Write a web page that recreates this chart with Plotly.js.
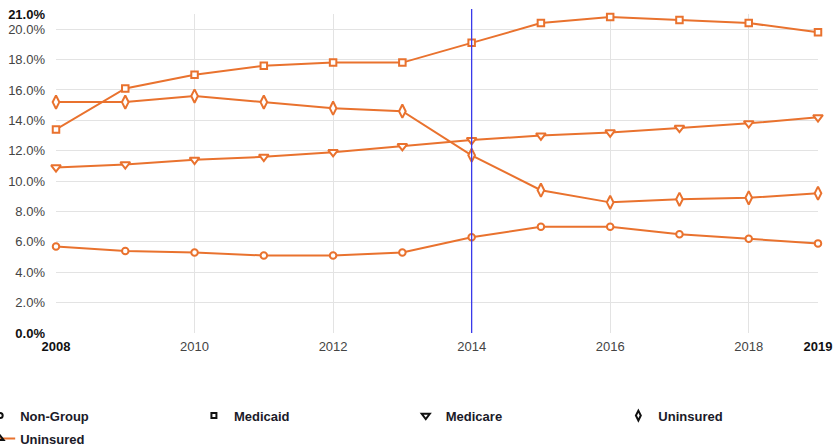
<!DOCTYPE html>
<html>
<head>
<meta charset="utf-8">
<script src="https://cdn.plot.ly/plotly-3.0.1.min.js"></script>
<style>
  html, body { margin: 0; padding: 0; background: #fff; }
  #chart { width: 835px; height: 446px; }
</style>
</head>
<body>
<div id="chart"></div>
<script>
// Coverage share by source, 2008-2019 (percent)
const years = [2008, 2009, 2010, 2011, 2012, 2013, 2014, 2015, 2016, 2017, 2018, 2019];
const nonGroup = [5.7, 5.4, 5.3, 5.1, 5.1, 5.3, 6.3, 7.0, 7.0, 6.5, 6.2, 5.9];
const medicaid = [13.4, 16.1, 17.0, 17.6, 17.8, 17.8, 19.1, 20.4, 20.8, 20.6, 20.4, 19.8];
const medicare = [10.9, 11.1, 11.4, 11.6, 11.9, 12.3, 12.7, 13.0, 13.2, 13.5, 13.8, 14.2];
const uninsured = [15.2, 15.2, 15.6, 15.2, 14.8, 14.6, 11.7, 9.4, 8.6, 8.8, 8.9, 9.2];

// Axis ticks
const yTickVals = [0, 2, 4, 6, 8, 10, 12, 14, 16, 18, 20];
const yTopVal = 21;
const xTickVals = [2008, 2010, 2012, 2014, 2016, 2018];
const xEndVal = 2019;
const markerYear = 2014;

const ORANGE = '#e9722e';
const BOLD = s => '<b><span style="color:#111">' + s + '</span></b>';
const pct = v => v.toFixed(1) + '%';

function series(name, y, symbol, size) {
  return {
    type: 'scatter', mode: 'lines+markers', name: name,
    x: years, y: y, showlegend: false, cliponaxis: false,
    line: { color: ORANGE, width: 2 },
    marker: { symbol: symbol, size: size, color: '#ffffff', line: { color: ORANGE, width: 2 } },
    hoverinfo: 'x+y'
  };
}

function legendEntry(name, legendId, symbol, size, withLine) {
  return {
    type: 'scatter', mode: withLine ? 'lines+markers' : 'markers', name: name,
    x: [null], y: [null], xaxis: 'x2', yaxis: 'y2',
    legend: legendId, showlegend: true,
    line: { color: ORANGE, width: 2 },
    marker: { symbol: symbol, size: size, color: '#111', line: { color: '#111', width: 2 } }
  };
}

const traces = [
  series('Non-Group', nonGroup, 'circle', 6.5),
  series('Medicaid', medicaid, 'square', 6.5),
  series('Medicare', medicare, 'triangle-down', 8.5),
  series('Uninsured', uninsured, 'diamond-tall', 9.5),
  legendEntry('Non-Group', 'legend', 'circle-open', 5, false),
  legendEntry('Medicaid', 'legend2', 'square-open', 5, false),
  legendEntry('Medicare', 'legend3', 'triangle-down-open', 7, false),
  legendEntry('Uninsured', 'legend4', 'diamond-tall-open', 7, false),
  legendEntry('Uninsured', 'legend5', 'triangle-up-open', 6, true)
];

const legendFont = { family: 'Liberation Sans, Arial, sans-serif', size: 13, color: '#1a1a28', weight: 'bold' };
function legendAt(x, y) {
  return {
    x: x, y: y, xanchor: 'left', yanchor: 'middle', orientation: 'h',
    bgcolor: 'rgba(0,0,0,0)', borderwidth: 0, font: legendFont,
    itemclick: false, itemdoubleclick: false
  };
}

const tickFont = { family: 'Liberation Sans, Arial, sans-serif', size: 13, color: '#444' };

const layout = {
  width: 835, height: 446,
  margin: { l: 56, r: 17, t: 14, b: 113, autoexpand: false },
  paper_bgcolor: '#ffffff', plot_bgcolor: '#ffffff',
  font: { family: 'Liberation Sans, Arial, sans-serif', size: 13, color: '#444' },
  xaxis: {
    range: [2008, 2019], tickmode: 'array', tickvals: xTickVals,
    ticktext: xTickVals.map((v, i) => i === 0 ? BOLD(String(v)) : String(v)),
    showgrid: true, gridcolor: '#e3e3e3', gridwidth: 1,
    zeroline: false, showline: false, ticks: '', tickfont: tickFont,
    ticklabelstandoff: 4, fixedrange: true
  },
  xaxis2: {
    overlaying: 'x', anchor: 'y2', range: [2008, 2019], tickmode: 'array',
    tickvals: [xEndVal], ticktext: [BOLD(String(xEndVal))],
    showgrid: false, zeroline: false, showline: false, ticks: '', tickfont: tickFont,
    ticklabelstandoff: 4, fixedrange: true
  },
  yaxis: {
    range: [0, 21], tickmode: 'array', tickvals: yTickVals,
    ticktext: yTickVals.map(v => v === 0 ? BOLD(pct(v)) : pct(v)),
    showgrid: true, gridcolor: '#e3e3e3', gridwidth: 1,
    zeroline: false, showline: false, ticks: '', tickfont: tickFont,
    ticklabelstandoff: 10, fixedrange: true
  },
  yaxis2: {
    overlaying: 'y', anchor: 'x2', side: 'left', range: [0, 21], tickmode: 'array',
    tickvals: [yTopVal], ticktext: [BOLD(pct(yTopVal))],
    showgrid: false, zeroline: false, showline: false, ticks: '', tickfont: tickFont,
    ticklabelstandoff: 10, fixedrange: true
  },
  shapes: [{
    type: 'line', xref: 'x', yref: 'paper',
    x0: markerYear, x1: markerYear, y0: 0, y1: 1.016,
    line: { color: '#3a3aea', width: 1.3 }
  }],
  legend: legendAt(-0.0995, -0.259),
  legend2: legendAt(0.1810, -0.259),
  legend3: legendAt(0.4590, -0.259),
  legend4: legendAt(0.7380, -0.259),
  legend5: legendAt(-0.0995, -0.331),
  showlegend: true,
  hovermode: 'closest'
};

Plotly.newPlot('chart', traces, layout, { displayModeBar: false, staticPlot: false });
</script>
</body>
</html>
